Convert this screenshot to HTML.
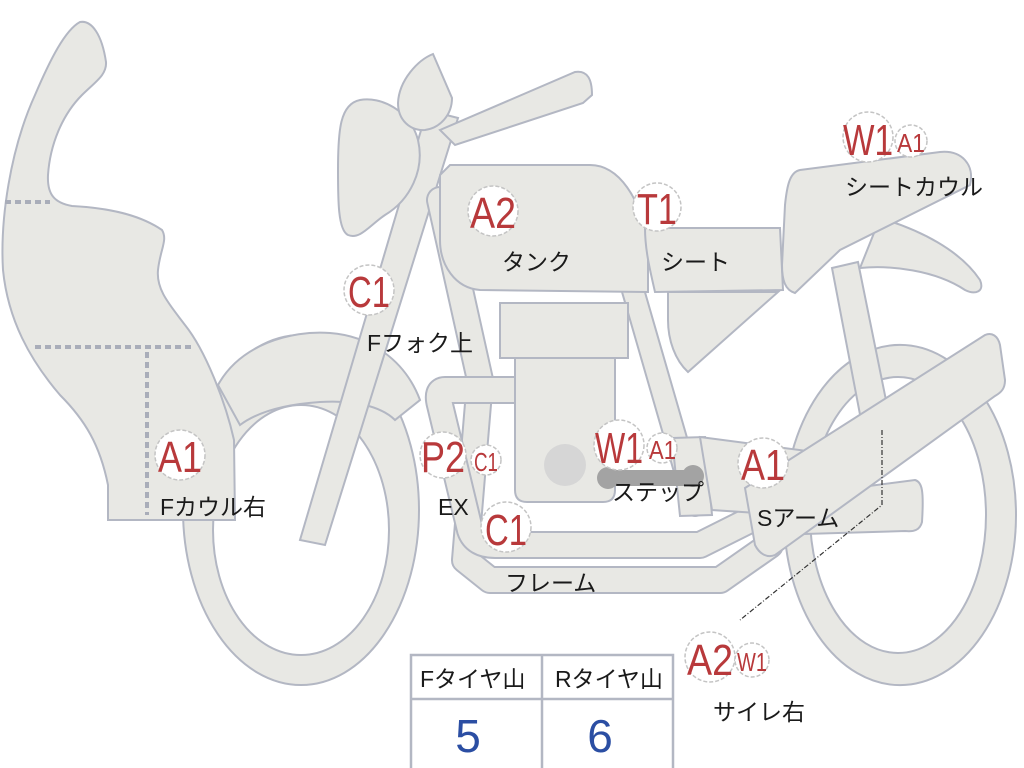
<!DOCTYPE html>
<html><head><meta charset="utf-8"><style>
html,body{margin:0;padding:0;background:#fff;width:1024px;height:768px;overflow:hidden}
svg{display:block}
.s{fill:#e8e8e4;stroke:#b3b7c3;stroke-width:2}
.o{fill:none;stroke:#b3b7c3;stroke-linecap:round;stroke-linejoin:round}
.i{fill:none;stroke:#e8e8e4;stroke-linecap:round;stroke-linejoin:round}
.c{fill:#fff;stroke:#c4c4c4;stroke-width:1.5;stroke-dasharray:4 2}
.r{fill:#b8393b;font-family:"Liberation Sans",sans-serif}
.k{fill:#1a1a1a;font-family:"Liberation Sans","Noto Sans CJK JP",sans-serif;font-size:23px}
.d{stroke:#a9adb9;stroke-width:4;stroke-dasharray:6 4;fill:none}
</style></head><body>
<svg width="1024" height="768" viewBox="0 0 1024 768" xmlns="http://www.w3.org/2000/svg">
<path class="s" fill-rule="evenodd" d="M183,510 a118,175 0 1,0 236,0 a118,175 0 1,0 -236,0 Z M213,530 a88,125 0 1,0 176,0 a88,125 0 1,0 -176,0 Z"/>
<path class="s" fill-rule="evenodd" d="M784,515 a116,170 0 1,0 232,0 a116,170 0 1,0 -232,0 Z M810,515 a88,138 0 1,0 176,0 a88,138 0 1,0 -176,0 Z"/>
<path class="s" d="M218,385 C240,345 290,330 330,333 C370,336 405,360 420,400 L395,420 C380,405 350,400 320,402 C290,404 260,410 240,425 Z"/>
<path class="s" d="M80,22 C92,20 102,35 106,62 C107,75 95,82 82,95 C62,115 50,145 48,175 C47,195 55,203 72,206 C110,208 140,215 162,230 C168,240 160,250 158,270 C156,290 170,305 185,325 C205,350 225,400 234,440 L235,520 L108,520 L108,485 C100,445 85,420 60,395 C30,360 8,320 3,270 C0,220 10,150 35,95 C50,60 65,30 80,22 Z"/>
<path class="d" d="M5,202 H50 M35,347 H192 M147,352 V515"/>
<path class="s" d="M427,110 L458,118 L325,545 L300,540 Z"/>
<path class="s" d="M360,100 C380,96 410,110 418,140 C425,170 410,200 385,215 C370,225 360,240 348,235 C338,230 338,200 338,170 C338,130 340,104 360,100 Z"/>
<path class="s" d="M433,54 L452,98 C452,115 440,128 425,130 C410,131 398,120 398,103 C399,80 418,60 433,54 Z"/>
<path class="s" d="M440,130 L575,72 C588,70 592,80 592,95 L583,103 L455,145 Z"/>
<path class="o" stroke-width="28" d="M440,200 L480,380 L465,560 L490,580 L720,580 L770,545"/>
<path class="i" stroke-width="24" d="M440,200 L480,380 L465,560 L490,580 L720,580 L770,545"/>
<path class="o" stroke-width="24" d="M630,280 L695,505"/>
<path class="i" stroke-width="20" d="M630,280 L695,505"/>
<path class="o" stroke-width="28" d="M515,390 H445 Q436,390 440,405 L470,530 Q475,545 495,545 H700 L750,520"/>
<path class="i" stroke-width="24" d="M515,390 H445 Q436,390 440,405 L470,530 Q475,545 495,545 H700 L750,520"/>
<path class="s" d="M450,165 L590,165 C620,165 640,200 648,240 L648,292 L480,290 C455,288 440,265 440,240 L440,175 Z"/>
<rect class="s" x="500" y="303" width="128" height="55"/>
<path class="s" d="M515,358 H615 V490 Q615,502 603,502 H527 Q515,502 515,490 Z"/>
<circle cx="565" cy="465" r="21" fill="#d6d6d6"/>
<path class="s" d="M668,292 L778,292 L688,372 C675,360 668,340 668,320 Z"/>
<path class="s" d="M645,228 L780,228 L783,290 L655,292 C650,270 645,250 645,228 Z"/>
<path class="s" d="M832,268 L858,262 L890,420 L862,425 Z"/>
<path class="s" d="M880,218 C920,230 960,250 980,280 C985,292 975,295 965,290 C935,270 890,265 860,268 Z"/>
<path class="s" d="M800,170 L940,152 C962,150 975,165 970,185 L840,250 L795,293 C785,290 782,280 782,265 L785,205 C787,185 790,172 800,170 Z"/>
<!-- step plate & band -->
<path class="s" d="M672,438 L705,437 L712,515 L680,516 Z"/>
<path class="s" d="M700,437 L815,452 L862,520 L712,510 Z"/>
<path class="s" d="M762,500 L915,480 C922,482 924,490 922,522 C920,530 914,532 905,531 L770,535 Z"/>
<path class="s" d="M745,488 L985,335 C992,332 998,336 1000,345 L1005,380 C1005,388 1002,392 995,396 L775,555 C768,558 760,555 755,545 Z"/>
<rect x="600" y="470" width="100" height="16" rx="8" fill="#a3a3a3"/>
<circle cx="608" cy="478" r="11" fill="#a3a3a3"/><circle cx="693" cy="476" r="11" fill="#a3a3a3"/>
<path d="M882,430 V505 L740,620" stroke="#333" stroke-width="1.2" fill="none" stroke-dasharray="5 2 1 2"/>
<circle class="c" cx="493" cy="211" r="25"/><text class="r" x="470" y="228" font-size="44" textLength="46" lengthAdjust="spacingAndGlyphs">A2</text>
<text class="k" x="502" y="270">タンク</text>
<circle class="c" cx="657" cy="207" r="24"/><text class="r" x="637" y="224" font-size="44" textLength="40" lengthAdjust="spacingAndGlyphs">T1</text>
<text class="k" x="661" y="270">シート</text>
<circle class="c" cx="868" cy="137" r="25"/><text class="r" x="843" y="155" font-size="44" textLength="50" lengthAdjust="spacingAndGlyphs">W1</text>
<circle class="c" cx="911" cy="141" r="16"/><text class="r" x="897" y="152" font-size="26" textLength="28" lengthAdjust="spacingAndGlyphs">A1</text>
<text class="k" x="845" y="195">シートカウル</text>
<circle class="c" cx="369" cy="290" r="25"/><text class="r" x="348" y="307" font-size="44" textLength="42" lengthAdjust="spacingAndGlyphs">C1</text>
<text class="k" x="367" y="351">Fフォク上</text>
<circle class="c" cx="180" cy="455" r="25"/><text class="r" x="158" y="472" font-size="44" textLength="44" lengthAdjust="spacingAndGlyphs">A1</text>
<text class="k" x="160" y="515">Fカウル右</text>
<circle class="c" cx="443" cy="455" r="23"/><text class="r" x="421" y="472" font-size="44" textLength="44" lengthAdjust="spacingAndGlyphs">P2</text>
<circle class="c" cx="486" cy="460" r="15"/><text class="r" x="474" y="471" font-size="26" textLength="24" lengthAdjust="spacingAndGlyphs">C1</text>
<text class="k" x="438" y="515">EX</text>
<circle class="c" cx="506" cy="527" r="25"/><text class="r" x="485" y="545" font-size="44" textLength="42" lengthAdjust="spacingAndGlyphs">C1</text>
<text class="k" x="505" y="591">フレーム</text>
<circle class="c" cx="619" cy="445" r="25"/><text class="r" x="595" y="463" font-size="44" textLength="48" lengthAdjust="spacingAndGlyphs">W1</text>
<circle class="c" cx="662" cy="448" r="15"/><text class="r" x="649" y="459" font-size="26" textLength="27" lengthAdjust="spacingAndGlyphs">A1</text>
<text class="k" x="612" y="500">ステップ</text>
<circle class="c" cx="763" cy="463" r="25"/><text class="r" x="741" y="480" font-size="44" textLength="44" lengthAdjust="spacingAndGlyphs">A1</text>
<text class="k" x="757" y="526">Sアーム</text>
<circle class="c" cx="710" cy="657" r="25"/><text class="r" x="687" y="675" font-size="44" textLength="46" lengthAdjust="spacingAndGlyphs">A2</text>
<circle class="c" cx="752" cy="660" r="17"/><text class="r" x="737" y="671" font-size="26" textLength="30" lengthAdjust="spacingAndGlyphs">W1</text>
<text class="k" x="713" y="720">サイレ右</text>
<rect x="411" y="655" width="262" height="118" fill="#fff" stroke="#b3b7c3" stroke-width="2.5"/>
<line x1="411" y1="699" x2="673" y2="699" stroke="#b3b7c3" stroke-width="2.5"/>
<line x1="542" y1="655" x2="542" y2="768" stroke="#b3b7c3" stroke-width="2.5"/>
<text class="k" x="420" y="687">Fタイヤ山</text>
<text class="k" x="555" y="687">Rタイヤ山</text>
<text x="468" y="752" font-family="Liberation Sans,sans-serif" font-size="46" fill="#2b4ea3" text-anchor="middle">5</text>
<text x="600" y="752" font-family="Liberation Sans,sans-serif" font-size="46" fill="#2b4ea3" text-anchor="middle">6</text>
</svg>
</body></html>
